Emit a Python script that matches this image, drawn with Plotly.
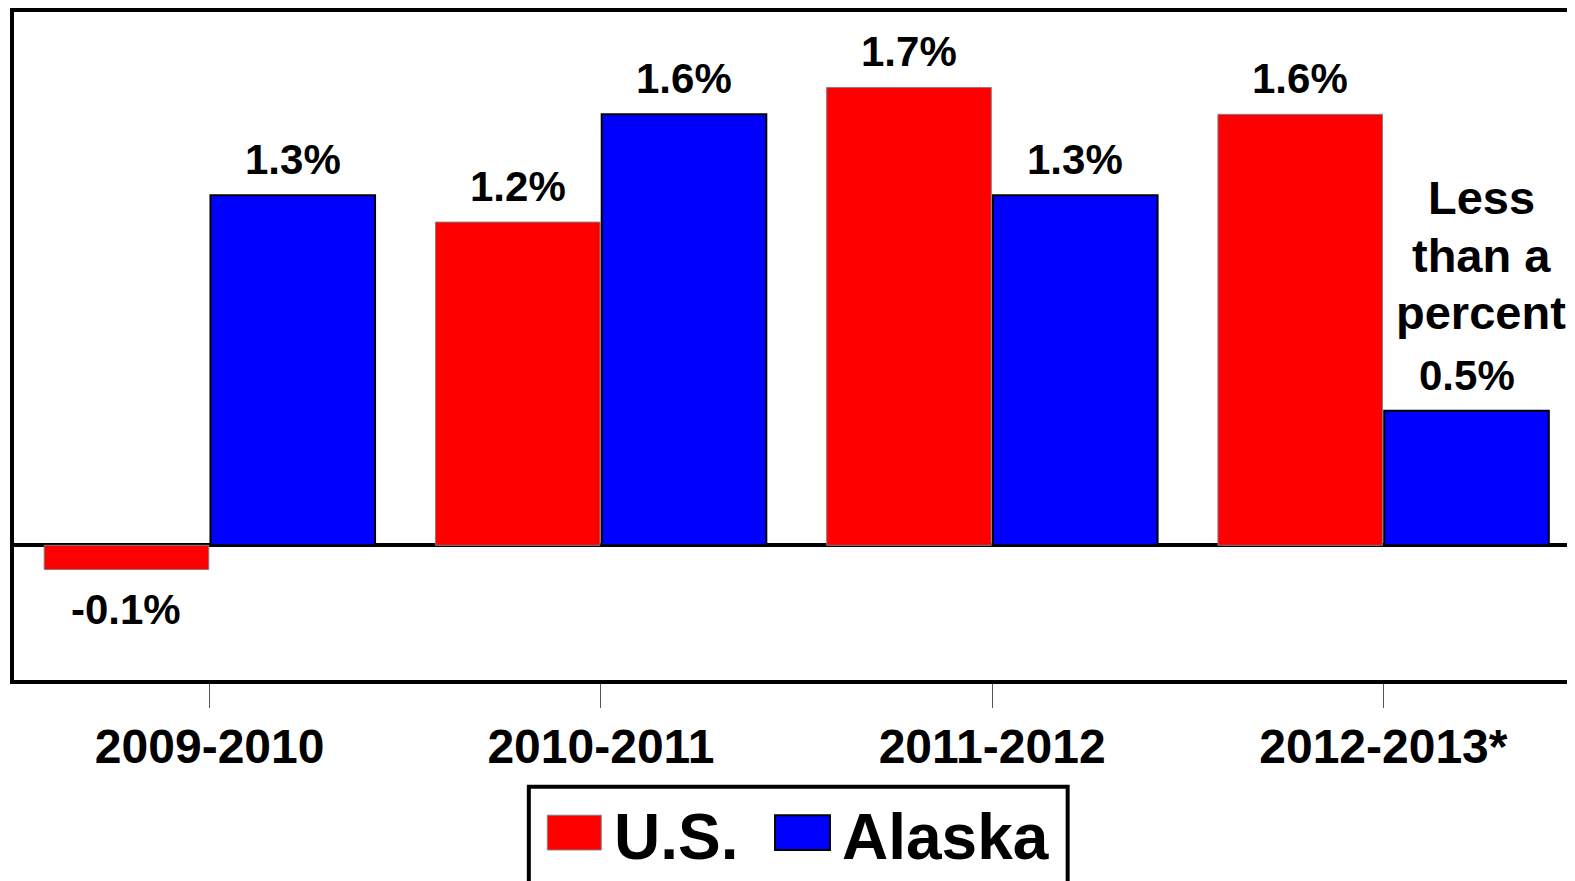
import plotly.graph_objects as go

# chart data
periods = ["2009-2010", "2010-2011", "2011-2012", "2012-2013*"]
us_values = [-0.09, 1.2, 1.7, 1.6]
us_labels = ["-0.1%", "1.2%", "1.7%", "1.6%"]
alaska_values = [1.3, 1.6, 1.3, 0.5]
alaska_labels = ["1.3%", "1.6%", "1.3%", "0.5%"]
note_lines = ["Less", "than a", "percent"]
note_levels = [1.29, 1.075, 0.865]
legend_names = ["U.S.", "Alaska"]

FONT = "Liberation Sans, Arial, sans-serif"
RED = "#FF0000"
BLUE = "#0000FF"
BARGAP = 0.15
BARGROUPGAP = 0.01

W, H = 1575, 881
ML, MR, MT, MB = 6, 2, 0, 209
PW, PH = W - ML - MR, H - MT - MB
Y_RANGE = [-0.5, 1.98]
PAGE_OFFSET = 8  # default body margin of the page


def paper_x(px):
    return (px - PAGE_OFFSET - ML) / PW


def paper_y(py):
    return (MT + PH - (py - PAGE_OFFSET)) / PH


fig = go.Figure()
fig.add_trace(go.Bar(
    x=periods, y=us_values, name="U.S.",
    marker=dict(color=RED, line=dict(color="#808080", width=1)),
))
fig.add_trace(go.Bar(
    x=periods, y=alaska_values, name="Alaska",
    marker=dict(color=BLUE, line=dict(color="black", width=2)),
))

# value labels above / below each bar
offset = (1 - BARGAP) / 4
for series, labels, shift in ((us_values, us_labels, -offset), (alaska_values, alaska_labels, offset)):
    for i, (v, lab) in enumerate(zip(series, labels)):
        fig.add_annotation(
            x=i + shift, y=v, xref="x", yref="y", text=lab, showarrow=False,
            yanchor="bottom" if v >= 0 else "top",
            yshift=10 if v >= 0 else -14,
            font=dict(family=FONT, size=42, color="black", weight="bold"),
        )

# "Less than a percent" note over the last Alaska bar
for line, level in zip(note_lines, note_levels):
    fig.add_annotation(
        x=3.25, y=level, xref="x", yref="y", text=line, showarrow=False,
        yanchor="middle", xanchor="center",
        font=dict(family=FONT, size=47, color="black", weight="bold"),
    )

# legend drawn by hand so the swatches can be large
fig.add_shape(type="rect", xref="paper", yref="paper",
              x0=paper_x(529.5), x1=paper_x(1069), y0=paper_y(787.5), y1=paper_y(895),
              line=dict(color="black", width=4), fillcolor="white")
fig.add_shape(type="rect", xref="paper", yref="paper",
              x0=paper_x(548), x1=paper_x(602), y0=paper_y(816), y1=paper_y(851),
              line=dict(color="#808080", width=1), fillcolor=RED)
fig.add_shape(type="rect", xref="paper", yref="paper",
              x0=paper_x(776), x1=paper_x(831), y0=paper_y(816), y1=paper_y(851),
              line=dict(color="black", width=2), fillcolor=BLUE)
for name, left in zip(legend_names, (613, 841)):
    fig.add_annotation(
        x=paper_x(left), y=paper_y(800), xref="paper", yref="paper", text=name,
        showarrow=False, xanchor="left", yanchor="top",
        font=dict(family=FONT, size=64, color="black", weight="bold"),
    )

fig.update_layout(
    width=W, height=H, autosize=False,
    margin=dict(l=ML, r=MR, t=MT, b=MB),
    barmode="group", bargap=BARGAP, bargroupgap=BARGROUPGAP,
    plot_bgcolor="white", paper_bgcolor="white",
    showlegend=False,
    font=dict(family=FONT, color="black"),
)
fig.update_xaxes(
    showline=True, linecolor="black", linewidth=4, mirror=True,
    ticks="outside", ticklen=24, tickcolor="#555555", tickwidth=1,
    ticklabelstandoff=-3, showgrid=False,
    tickfont=dict(family=FONT, size=48, color="black", weight="bold"),
)
fig.update_yaxes(
    range=Y_RANGE, showline=True, linecolor="black", linewidth=4, mirror=True,
    zeroline=True, zerolinecolor="black", zerolinewidth=4,
    showgrid=False, showticklabels=False, ticks="",
)

fig.write_html("out.html")
